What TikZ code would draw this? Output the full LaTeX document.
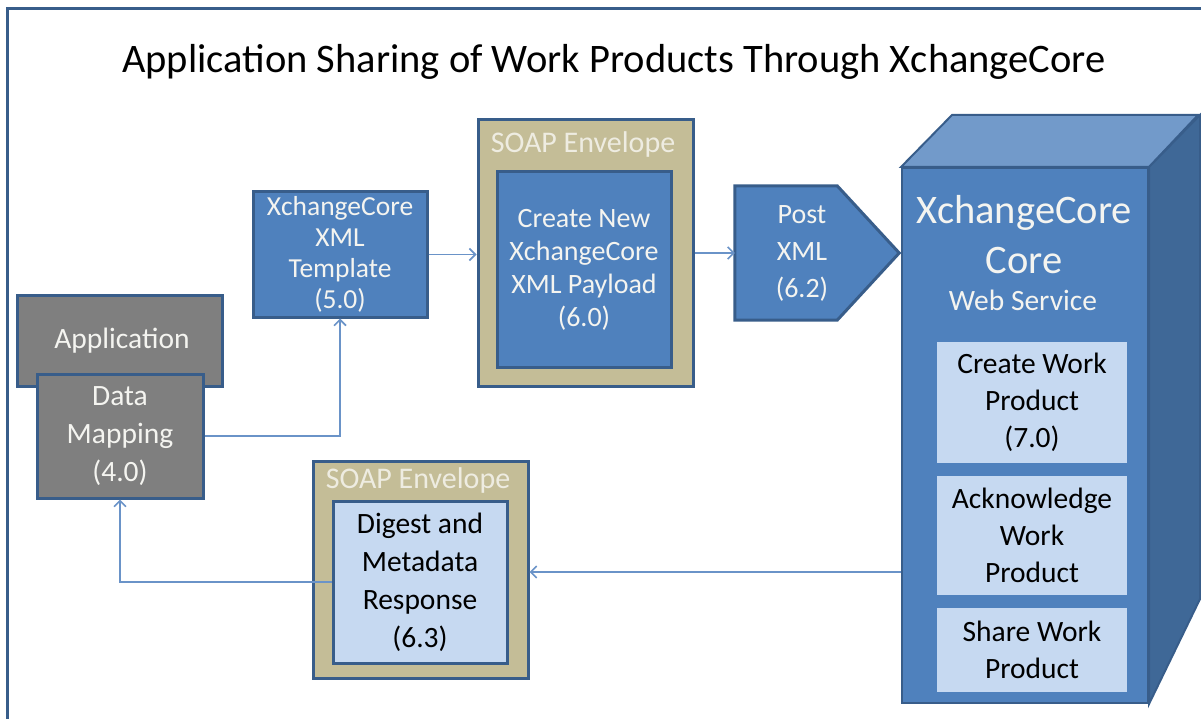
\documentclass[tikz,border=0pt]{standalone}
\usepackage{fontspec}
\setmainfont{Carlito}
\usetikzlibrary{arrows.meta,calc}
\definecolor{bord}{HTML}{385D8A}
\definecolor{blue1}{HTML}{4F81BD}
\definecolor{light1}{HTML}{C6D9F1}
\definecolor{tan1}{HTML}{C4BD97}
\definecolor{gray1}{HTML}{7F7F7F}
\definecolor{topf}{HTML}{729ACA}
\definecolor{sidef}{HTML}{3F6897}
\definecolor{conn}{HTML}{6A93C8}
\definecolor{cream}{HTML}{EEECE1}
\definecolor{txtw}{HTML}{F4F4F0}
\begin{document}
\begin{tikzpicture}[x=1pt,y=-1pt,
  box/.style={draw=bord,line width=3pt,inner sep=0pt,align=center},
  bluebox/.style={box,fill=blue1,text=txtw},
  graybox/.style={box,fill=gray1,text=txtw},
  envbox/.style={box,fill=tan1},
  lightbox/.style={fill=light1,inner sep=0pt,align=center,text=black},
  envlabel/.style={text=cream,font=\fontsize{30}{34}\selectfont},
  conline/.style={draw=conn,line width=1.6pt,-{Straight Barb[length=6pt,width=12pt]}}
]
\useasboundingbox (0,0) rectangle (1201,719);
\clip (0,0) rectangle (1201,719);
\draw[bord,line width=3pt] (7.5,8.5) rectangle (1250,760);

\node[font=\fontsize{40.5}{48}\selectfont] (title) at (614,62) {Application Sharing of Work Products  Through XchangeCore};

% Application + data mapping
\node[graybox,minimum width=205pt,minimum height=91pt] (app) at (119.5,340.5) {};
\node[text=txtw,font=\fontsize{29.5}{34}\selectfont] (applabel) at (122,341) {Application};
\node[graybox,minimum width=166pt,minimum height=124pt,font=\fontsize{29.5}{38}\selectfont] (dm) at (120,436) {Data\\Mapping\\(4.0)};

% template
\node[bluebox,minimum width=174pt,minimum height=125pt,font=\fontsize{27.5}{31}\selectfont] (tpl) at (340,254.5) {XchangeCore\\XML\\Template\\(5.0)};

% envelope 1
\node[envbox,minimum width=215pt,minimum height=266pt] (env1) at (585.5,253) {};
\node[envlabel] (env1label) at (583,145) {SOAP Envelope};
\node[bluebox,minimum width=174pt,minimum height=195pt,font=\fontsize{28}{33}\selectfont] (create) at (584,269.5) {Create New\\XchangeCore\\XML Payload\\(6.0)};

% post xml
\node[minimum width=102pt,minimum height=134pt,inner sep=0pt] (post) at (786,253) {};
\draw[bord,line width=3pt,fill=blue1,line join=miter] (post.north west) -- (post.north east) -- ($(post.east)+(62,0)$) -- (post.south east) -- (post.south west) -- cycle;
\node[text=txtw,align=center,font=\fontsize{28}{37}\selectfont] (postlabel) at (802,253.5) {Post\\XML\\(6.2)};

% server
\node[draw=bord,line width=2pt,fill=blue1,minimum width=246pt,minimum height=535pt,inner sep=0pt] (srv) at (1025,435.5) {};
\draw[bord,line width=2pt,fill=topf,line join=miter] (srv.north west) -- ++(51,-52) -- ++(246,0) -- (srv.north east) -- cycle;
\draw[bord,line width=2pt,fill=sidef,line join=miter] (srv.north east) -- ++(51,-52) -- ++(0,484) -- (srv.south east) -- cycle;
\node[text=txtw,align=center,font=\fontsize{40.5}{50}\selectfont] (srvlabel) at (1024,235) {XchangeCore\\Core};
\node[text=txtw,font=\fontsize{29.5}{34}\selectfont] (srvsub) at (1023,300) {Web Service};
\node[lightbox,minimum width=190pt,minimum height=121pt,font=\fontsize{29.5}{37}\selectfont] (cwp) at (1032,402.5) {Create Work\\Product\\(7.0)};
\node[lightbox,minimum width=190pt,minimum height=119pt,font=\fontsize{29.5}{37}\selectfont] (awp) at (1032,535.5) {Acknowledge\\Work\\Product};
\node[lightbox,minimum width=190pt,minimum height=84pt,font=\fontsize{29.5}{37}\selectfont] (swp) at (1032,650) {Share Work\\Product};

% envelope 2
\node[envbox,minimum width=215pt,minimum height=217pt] (env2) at (420.5,569.5) {};
\node[envlabel] (env2label) at (418,480) {SOAP Envelope};
\node[box,fill=light1,text=black,minimum width=174pt,minimum height=162pt,font=\fontsize{29.5}{38}\selectfont] (dig) at (420,582) {Digest and\\Metadata\\Response\\(6.3)};

% connectors
\draw[conline] (dm.east) -| (tpl.south);
\draw[conline] (tpl.east) -- (tpl.east -| env1.west);
\draw[conline] (env1.east |- post.west) -- (post.west);
\draw[conline] (srv.west |- 0,572) -- (env2.east |- 0,572);
\draw[conline] (dig.west) -| (dm.south);
\end{tikzpicture}
\end{document}
